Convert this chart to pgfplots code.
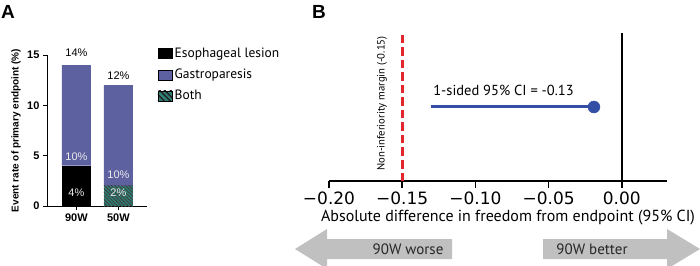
\documentclass[border=0pt]{standalone}
\usepackage{pgfplots}
\pgfplotsset{compat=1.18}
\usepackage{fontspec}
\setmainfont{Liberation Sans}
\newfontfamily\myr{PT Sans}
\newfontfamily\dejavu{DejaVu Sans}
\usetikzlibrary{patterns.meta}
\definecolor{gastro}{RGB}{94,97,160}
\definecolor{bothc}{RGB}{42,130,118}
\definecolor{ciblue}{RGB}{50,78,165}
\definecolor{redm}{RGB}{226,38,45}
\definecolor{arrowgray}{RGB}{192,192,192}
\begin{document}
\begin{tikzpicture}[x=1pt,y=1pt]
\useasboundingbox (0pt,0pt) rectangle (700pt,265pt);
% ---------------- Panel A ----------------
\begin{axis}[
  at={(47pt,59pt)}, anchor=south west, scale only axis,
  width=100pt, height=151pt,
  xmin=0.3, xmax=2.68, ymin=0, ymax=15,
  axis x line*=bottom, axis y line*=left,
  ybar stacked, bar width=29pt,
  xtick={1,2}, xticklabels={90W,50W},
  ytick={0,5,10,15},
  tick align=outside, major tick length=4pt,
  tick style={black, line width=1pt},
  axis line style={line width=1pt},
  ticklabel style={font=\fontsize{11}{12}\selectfont\bfseries},
  /pgf/number format/assume math mode=true,
  ylabel={Event rate of primary endpoint (\%)},
  ylabel style={font=\fontsize{10}{12}\selectfont\bfseries, at={(axis description cs:-0.31,0.5)}, anchor=center},
  clip=false,
  legend image code/.code={\fill[#1] (0pt,-5pt) rectangle (14pt,5pt);},
  legend style={at={(rel axis cs:1.10,1.06)}, anchor=north west, draw=none, fill=none,
    font=\myr\fontsize{13.5}{13.5}\selectfont, row sep=6pt, inner sep=0pt,
    cells={anchor=west}},
]
\addlegendimage{fill=black}
\addlegendentry{Esophageal lesion}
\addlegendimage{fill=gastro}
\addlegendentry{Gastroparesis}
\addlegendimage{fill=bothc, postaction={pattern={Lines[angle=-45,distance=4pt,line width=1.5pt]}, pattern color=black!85}}
\addlegendentry{Both}
\addplot[fill=black, draw=none, forget plot] coordinates {(1,4) (2,0)};
\addplot[fill=bothc, draw=none, forget plot, postaction={pattern={Lines[angle=-45,distance=2.5pt,line width=1pt]}, pattern color=black!75}] coordinates {(1,0) (2,2)};
\addplot[fill=gastro, draw=none, forget plot] coordinates {(1,10) (2,10)};
\coordinate (t1) at (axis cs:1,15.2);
\coordinate (t2) at (axis cs:2,12.9);
\coordinate (g1) at (axis cs:1,4.9);
\coordinate (e1) at (axis cs:1,1.3);
\coordinate (g2) at (axis cs:2,3.1);
\coordinate (b2) at (axis cs:2,1.3);
\end{axis}
\node[font=\fontsize{11}{11}\selectfont] at (t1) {14\%};
\node[font=\fontsize{11}{11}\selectfont] at (t2) {12\%};
\node[font=\fontsize{11}{11}\selectfont, text=white!92!black] at (g1) {10\%};
\node[font=\fontsize{11}{11}\selectfont, text=white!92!black] at (e1) {4\%};
\node[font=\fontsize{11}{11}\selectfont, text=white!92!black] at (g2) {10\%};
\node[font=\fontsize{11}{11}\selectfont, text=white!92!black] at (b2) {2\%};
% ---------------- Panel B ----------------
\begin{axis}[
  at={(329pt,84pt)}, anchor=south west, scale only axis,
  width=338pt, height=148pt,
  xmin=-0.2, xmax=0.0309, ymin=0, ymax=1,
  axis x line*=bottom, axis y line=none,
  xtick={-0.2,-0.15,-0.1,-0.05,0},
  xticklabels={−0.20,−0.15,−0.10,−0.05,0.00},
  ticklabel style={font=\dejavu\fontsize{17}{17}\selectfont},
  tick align=outside, major tick length=7pt,
  tick style={black, line width=1.5pt},
  axis line style={line width=1.5pt},
  clip=false,
]
\addplot[black, line width=1.8pt] coordinates {(0,0) (0,1)};
\addplot[redm, line width=3pt, dash pattern=on 8.5pt off 4pt] coordinates {(-0.15,0) (-0.15,0.99)};
\addplot[ciblue, line width=3pt] coordinates {(-0.13,0.5) (-0.019,0.5)};
\addplot[ciblue, only marks, mark=*, mark size=6pt] coordinates {(-0.019,0.5)};
\end{axis}
\node[font=\myr\fontsize{14.5}{14.5}\selectfont] at (503.5pt,175pt) {1-sided 95\% CI = -0.13};
\node[font=\myr\fontsize{10.7}{11}\selectfont, rotate=90] at (382pt,161.5pt) {Non-inferiority margin (-0.15)};
\node[font=\myr\fontsize{16}{16}\selectfont] at (508pt,47pt) {Absolute difference in freedom from endpoint (95\% CI)};
\fill[arrowgray] (452pt,6pt) -- (327pt,6pt) -- (327pt,-4pt) -- (295pt,16pt) -- (327pt,36pt) -- (327pt,26pt) -- (452pt,26pt) -- cycle;
\fill[arrowgray] (543pt,6pt) -- (667pt,6pt) -- (667pt,-4pt) -- (700pt,16pt) -- (667pt,36pt) -- (667pt,26pt) -- (543pt,26pt) -- cycle;
\node[font=\myr\fontsize{15}{15}\selectfont, text=black!85] at (408pt,16pt) {90W worse};
\node[font=\myr\fontsize{15}{15}\selectfont, text=black!85] at (592pt,16pt) {90W better};
\node[font=\bfseries\fontsize{19}{19}\selectfont] at (8pt,253pt) {A};
\node[font=\bfseries\fontsize{19}{19}\selectfont] at (319pt,253pt) {B};
\end{tikzpicture}
\end{document}
